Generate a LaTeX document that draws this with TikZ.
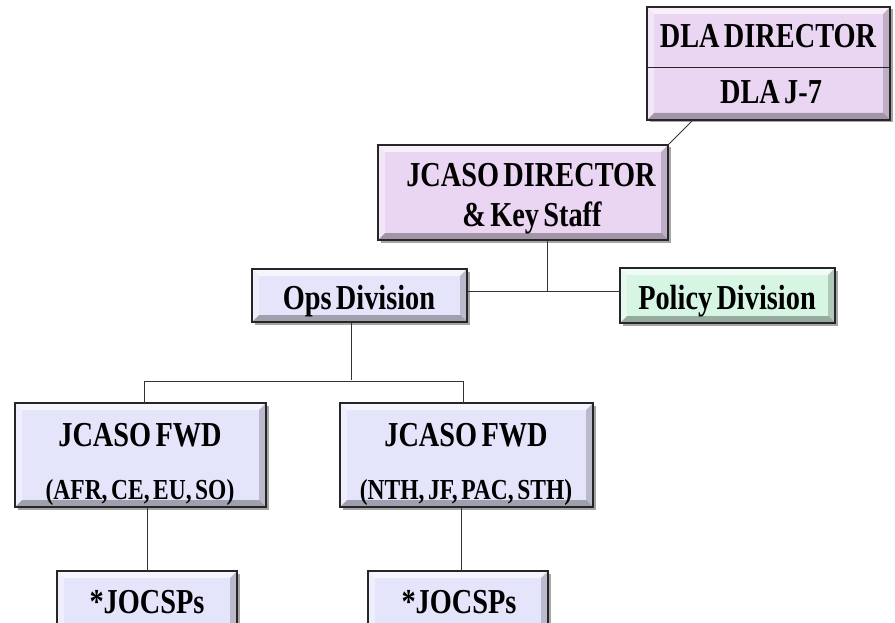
\documentclass[tikz,border=0pt]{standalone}
\usepackage{fontspec}
\setmainfont{Liberation Serif}[FakeStretch=0.81,WordSpace=0.6]
\usetikzlibrary{shadows}
\definecolor{lilac}{RGB}{234,214,242}
\definecolor{lav}{RGB}{228,228,250}
\definecolor{mint}{RGB}{214,245,227}
\tikzset{
  box/.style={draw=black!85, line width=1.4pt, inner sep=0pt, outer sep=0pt,
    drop shadow={shadow xshift=2.5pt, shadow yshift=-2.5pt, opacity=0.35, fill=black},
    path picture={
      \fill[white,opacity=.65] (path picture bounding box.north west) -- (path picture bounding box.north east)
        -- ([shift={(-7pt,-7pt)}]path picture bounding box.north east) -- ([shift={(7pt,-7pt)}]path picture bounding box.north west) -- cycle;
      \fill[white,opacity=.4] (path picture bounding box.north west) -- ([shift={(7pt,-7pt)}]path picture bounding box.north west)
        -- ([shift={(7pt,7pt)}]path picture bounding box.south west) -- (path picture bounding box.south west) -- cycle;
      \fill[black,opacity=.3] (path picture bounding box.south west) -- ([shift={(7pt,7pt)}]path picture bounding box.south west)
        -- ([shift={(-7pt,7pt)}]path picture bounding box.south east) -- (path picture bounding box.south east) -- cycle;
      \fill[black,opacity=.18] (path picture bounding box.north east) -- ([shift={(-7pt,-7pt)}]path picture bounding box.north east)
        -- ([shift={(-7pt,7pt)}]path picture bounding box.south east) -- (path picture bounding box.south east) -- cycle;
    }},
  txt/.style={font=\bfseries\fontsize{35}{38}\selectfont, inner sep=0pt, anchor=base},
  subtxt/.style={font=\bfseries\fontsize{29}{32}\selectfont, inner sep=0pt, anchor=base},
  conn/.style={draw=black!80, line width=0.8pt},
}
\begin{document}
\begin{tikzpicture}[x=1pt,y=-1pt]
\useasboundingbox (0,0) rectangle (895,623);
\clip (0,0) rectangle (895,623);
% boxes
\node[box, fill=lilac, minimum width=243pt, minimum height=113pt] (dla) at (768.5,63.5) {};
\node[box, fill=lilac, minimum width=290pt, minimum height=95pt] (jdir) at (523,192.5) {};
\node[box, fill=lav, minimum width=215pt, minimum height=53pt] (ops) at (359.5,295.5) {};
\node[box, fill=mint, minimum width=215pt, minimum height=55pt] (pol) at (727.5,295.5) {};
\node[box, fill=lav, minimum width=251pt, minimum height=104pt] (fwdL) at (140.5,455) {};
\node[box, fill=lav, minimum width=253pt, minimum height=104pt] (fwdR) at (466.5,455) {};
\node[box, fill=lav, minimum width=180pt, minimum height=62pt] (jL) at (147,602) {};
\node[box, fill=lav, minimum width=180pt, minimum height=62pt] (jR) at (458,602) {};
% divider in DLA box
\coordinate (div) at (768.5,67);
\draw[black!85, line width=0.8pt] (dla.west |- div) -- (dla.east |- div);
% texts
\node[txt] (t1) at (768,48) {DLA DIRECTOR};
\node[txt] (t2) at (771,104) {DLA J-7};
\node[txt] (t3) at (531,187) {JCASO DIRECTOR};
\node[txt] (t4) at (532,226) {\& Key Staff};
\node[txt] (t5) at (359,309) {Ops Division};
\node[txt] (t6) at (727,309) {Policy Division};
\node[txt] (t7) at (140,446) {JCASO FWD};
\node[subtxt] (t8) at (140,499) {(AFR, CE, EU, SO)};
\node[txt] (t9) at (466,446) {JCASO FWD};
\node[subtxt] (t10) at (466,499) {(NTH, JF, PAC, STH)};
\node[txt] (t11) at (147,613) {*JOCSPs};
\node[txt] (t12) at (459,613) {*JOCSPs};
% connectors
\draw[conn] ([xshift=-75.5pt]dla.south) -- ([xshift=145pt]jdir.north);
\coordinate (bus) at (547,291.5);
\draw[conn] ([xshift=24pt]jdir.south) -- (bus);
\draw[conn] ([yshift=4pt]ops.east) -- ([yshift=4pt]pol.west);
\draw[conn] ([xshift=-8.5pt]ops.south) -- ++(0,58);
\draw[conn] ([xshift=3.5pt]fwdL.north) -- ++(0,-22) -| ([xshift=-3.5pt]fwdR.north);
\draw[conn] (jL.north |- fwdL.south) -- (jL.north);
\draw[conn] ([xshift=-5pt]fwdR.south) -- ([xshift=-5pt]fwdR.south |- jR.north);
\end{tikzpicture}
\end{document}
